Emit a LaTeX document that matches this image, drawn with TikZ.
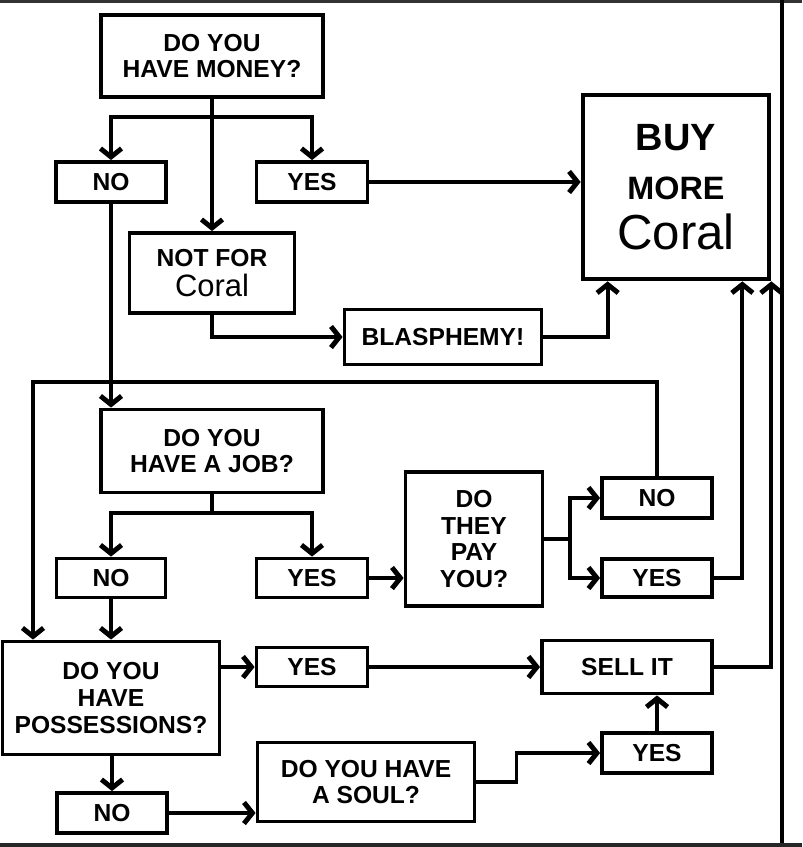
\documentclass[tikz,border=0pt]{standalone}
\usepackage{fontspec}
\setmainfont{Liberation Sans}
\usetikzlibrary{arrows.meta}

\begin{document}
\begin{tikzpicture}[x=0.025cm, y=-0.025cm,
    qbox/.style={draw, line width=2.7pt, inner sep=0pt, align=center,
                 font=\fontsize{17.5}{19}\selectfont\bfseries},
    arr/.style={line width=2.7pt, -{Straight Barb[length=6pt, width=15pt, line width=0.8pt 1]}},
    lnk/.style={line width=2.7pt},
  ]
    \useasboundingbox (0,0) rectangle (802,847);
    \fill[black!80] (0,0) rectangle (802,3);
    \fill[black!85] (0,843) rectangle (802,847);
    \draw[line width=3pt] (782,0) -- (782,843);

    \node[qbox, minimum width=5.55cm, minimum height=2.05cm] (money) at (212,56) {DO YOU\\HAVE MONEY?};
    \node[qbox, minimum width=2.75cm, minimum height=1cm] (noA) at (111,182) {NO};
    \node[qbox, minimum width=2.775cm, minimum height=1cm] (yesA) at (312,182) {YES};
    \node[qbox, minimum width=4.125cm, minimum height=2cm, font=\fontsize{17.5}{21.3}\selectfont\bfseries] (notfor) at (212,273) {NOT FOR\\{\fontsize{22}{22}\selectfont\mdseries Coral}};
    \node[qbox, minimum width=4.65cm, minimum height=4.6cm, line width=3.3pt, font=\fontsize{27}{35}\selectfont\bfseries] (buy) at (676,187) {BUY\\{\fontsize{23}{35}\selectfont MORE}\\{\fontsize{35}{35}\selectfont\mdseries Coral}};
    \node[qbox, minimum width=4.925cm, minimum height=1.375cm] (blas) at (443,337) {BLASPHEMY!};
    \node[qbox, minimum width=5.55cm, minimum height=2.075cm] (job) at (212,451) {DO YOU\\HAVE A JOB?};
    \node[qbox, minimum width=2.725cm, minimum height=0.975cm] (noB) at (111,578) {NO};
    \node[qbox, minimum width=2.775cm, minimum height=0.975cm] (yesB) at (312,578) {YES};
    \node[qbox, minimum width=3.425cm, minimum height=3.35cm] (pay) at (474,539) {DO\\THEY\\PAY\\YOU?};
    \node[qbox, minimum width=2.75cm, minimum height=1cm] (noC) at (657,498) {NO};
    \node[qbox, minimum width=2.75cm, minimum height=0.95cm] (yesC) at (657,578) {YES};
    \node[qbox, minimum width=5.425cm, minimum height=2.825cm] (poss) at (111,698) {DO YOU\\HAVE\\POSSESSIONS?};
    \node[qbox, minimum width=2.775cm, minimum height=0.975cm] (yesD) at (312,667) {YES};
    \node[qbox, minimum width=4.25cm, minimum height=1.325cm] (sell) at (627,667) {SELL IT};
    \node[qbox, minimum width=2.75cm, minimum height=1cm] (noD) at (112,813) {NO};
    \node[qbox, minimum width=5.425cm, minimum height=1.975cm] (soul) at (366,782) {DO YOU HAVE\\A SOUL?};
    \node[qbox, minimum width=2.75cm, minimum height=1cm] (yesE) at (657,753) {YES};

    \coordinate (splitA) at (212,117);
    \coordinate (splitB) at (212,513);
    \coordinate (splitC) at (570,539);
    \coordinate (loopcorner) at (33,382);

    \draw[arr] (money.south) -- (notfor.north);
    \draw[arr] (splitA) -| (noA.north);
    \draw[arr] (splitA) -| (yesA.north);
    \draw[arr] (yesA.east) -- (yesA.east -| buy.west);
    \draw[arr] (notfor.south) |- (blas.west);
    \draw[arr] (blas.east) -| ([xshift=0.675cm]buy.south west);
    \draw[arr] (noA.south) -- (noA.south |- job.north);
    \draw[lnk] (job.south) -- (splitB);
    \draw[arr] (splitB) -| (noB.north);
    \draw[arr] (splitB) -| (yesB.north);
    \draw[arr] (yesB.east) -- (yesB.east -| pay.west);
    \draw[lnk] (pay.east) -- (splitC);
    \draw[arr] (splitC) |- (noC.west);
    \draw[arr] (splitC) |- (yesC.west);
    \draw[arr] (noC.north) |- (loopcorner) -- (loopcorner |- poss.north);
    \draw[arr] (yesC.east) -| ([xshift=-0.725cm]buy.south east);
    \draw[arr] (noB.south) -- (noB.south |- poss.north);
    \draw[arr] (poss.east |- yesD.west) -- (yesD.west);
    \draw[arr] (yesD.east) -- (yesD.east -| sell.west);
    \draw[arr] (sell.east) -| (buy.south east);
    \draw[arr] (noD.north |- poss.south) -- (noD.north);
    \draw[arr] (noD.east) -- (noD.east -| soul.west);
    \draw[arr] (soul.east) -- ++(40,0) |- (yesE.west);
    \draw[arr] (yesE.north) -- (yesE.north |- sell.south);
\end{tikzpicture}
\end{document}
